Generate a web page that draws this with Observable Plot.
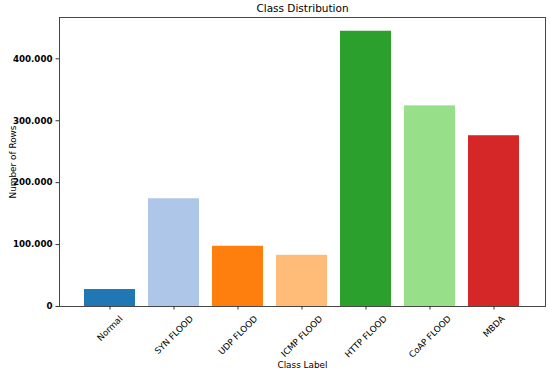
<!DOCTYPE html>
<html>
<head>
<meta charset="utf-8">
<script src="https://cdn.jsdelivr.net/npm/d3@7"></script>
<script src="https://cdn.jsdelivr.net/npm/@observablehq/plot@0.6"></script>
<style>
  html, body { margin: 0; padding: 0; background: white; }
</style>
</head>
<body>
<div id="chart"></div>
<script>
const categories = ["Normal", "SYN FLOOD", "UDP FLOOD", "ICMP FLOOD", "HTTP FLOOD", "CoAP FLOOD", "MBDA"];
const counts = [27400, 174000, 97300, 82700, 444500, 324000, 275800];
const colors = ["#1f77b4", "#aec7e8", "#ff7f0e", "#ffbb78", "#2ca02c", "#98df8a", "#d62728"];
const yTicks = [0, 100000, 200000, 300000, 400000];
const title = "Class Distribution";
const xLabel = "Class Label";
const yLabel = "Number of Rows";

const data = categories.map((c, i) => ({label: c, count: counts[i], color: colors[i]}));

const FONT = "'DejaVu Sans', 'Liberation Sans', sans-serif";
const tickSize = 8.7;
const ctx = document.createElement("canvas").getContext("2d");
ctx.font = `${tickSize}px 'DejaVu Sans'`;
const measure = (s) => ctx.measureText(s).width;

const fmt = (d) => d === 0 ? "0" : d3.format(",")(d).replace(/,/g, ".");

const labelMarks = categories.map((c) => {
  const w = measure(c);
  const half = (w + 0.73 * tickSize) * Math.SQRT1_2 / 2;
  return Plot.text([c], {
    x: (d) => d,
    frameAnchor: "bottom",
    dy: 8.5 + half,
    rotate: -45,
    textAnchor: "middle",
    lineAnchor: "middle",
    fontSize: tickSize,
    fontFamily: FONT,
    fill: "#000"
  });
});

const chart = Plot.plot({
  width: 550,
  height: 372,
  marginLeft: 59,
  marginRight: 5,
  marginTop: 17,
  marginBottom: 66,
  style: {fontFamily: FONT, fontSize: "9px", background: "white", color: "#000"},
  x: {domain: categories, paddingInner: 0.2, paddingOuter: 0.34, axis: null},
  y: {domain: [0, d3.max(counts) * 1.05], axis: null},
  marks: [
    Plot.barY(data, {x: "label", y: "count", fill: "color"}),
    Plot.axisX({tickSize: 3.5, tickFormat: () => "", label: null, stroke: "#333"}),
    Plot.axisY({ticks: yTicks, tickFormat: fmt, tickSize: 3.5, tickPadding: 3.5, fontWeight: "bold", fontSize: tickSize, fontFamily: FONT, label: null, stroke: "#333"}),
    Plot.frame({stroke: "#333", strokeWidth: 0.9}),
    ...labelMarks,
    Plot.text([title], {frameAnchor: "top", dy: -8.7, textAnchor: "middle", lineAnchor: "middle", fontSize: 10.5, fontFamily: FONT, fill: "#000"}),
    Plot.text([yLabel], {frameAnchor: "left", dx: -46.5, rotate: -90, textAnchor: "middle", lineAnchor: "middle", fontSize: 8.9, fontFamily: FONT, fill: "#000"}),
    Plot.text([xLabel], {frameAnchor: "bottom", dy: 59, textAnchor: "middle", lineAnchor: "middle", fontSize: 8.9, fontFamily: FONT, fill: "#000"})
  ]
});

document.getElementById("chart").appendChild(chart);
</script>
</body>
</html>
